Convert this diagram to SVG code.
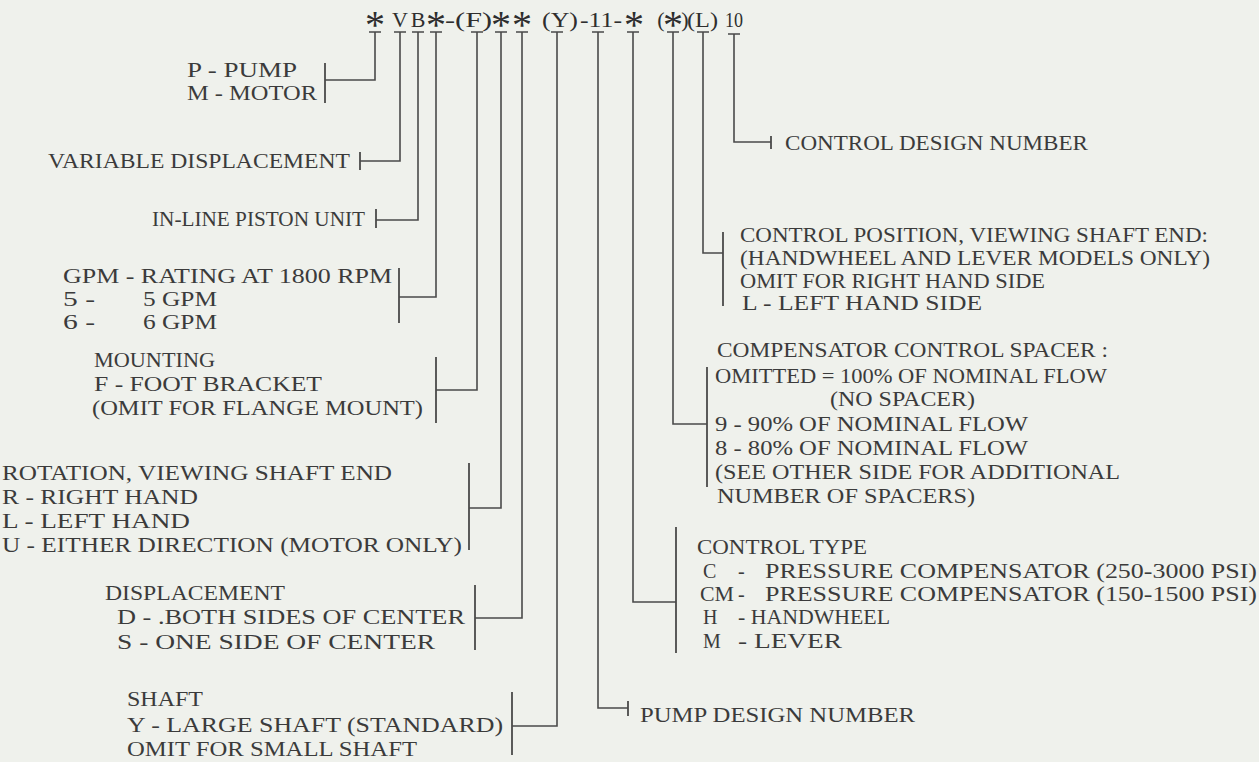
<svg xmlns="http://www.w3.org/2000/svg" width="1259" height="762" viewBox="0 0 1259 762">
<style>
.t{font-family:"Liberation Serif","Times New Roman",serif;font-size:20px;fill:#3b3b3b}
.h{font-family:"Liberation Serif","Times New Roman",serif;font-size:22px;fill:#2e2e2e}
.a{font-family:"Liberation Serif","Times New Roman",serif;font-size:40px;fill:#2e2e2e;text-anchor:middle}
.ln{fill:none;stroke:#4a4a4a;stroke-width:1.6}
.tk{fill:none;stroke:#4a4a4a;stroke-width:1.8}
</style>
<rect width="1259" height="762" fill="#eff1ec"/>
<g id="code">
<text class="a" x="375" y="38">*</text>
<text class="h" x="400" y="27" text-anchor="middle">V</text>
<text class="h" x="418" y="27" text-anchor="middle">B</text>
<text class="a" x="436" y="38">*</text>
<text class="h" x="445" y="27" textLength="47" lengthAdjust="spacingAndGlyphs">-(F)</text>
<text class="a" x="501" y="38">*</text>
<text class="a" x="522" y="38">*</text>
<text class="h" x="542" y="27" textLength="36" lengthAdjust="spacingAndGlyphs">(Y)</text>
<text class="h" x="580" y="27" textLength="42" lengthAdjust="spacingAndGlyphs">-11-</text>
<text class="a" x="634" y="38">*</text>
<text class="h" x="661" y="27" text-anchor="middle">(</text>
<text class="a" x="673" y="38">*</text>
<text class="h" x="685" y="27" text-anchor="middle">)</text>
<text class="h" x="687" y="27" textLength="31" lengthAdjust="spacingAndGlyphs">(L)</text>
<text class="h" x="725" y="27" textLength="18" lengthAdjust="spacingAndGlyphs">10</text>
</g>
<g id="connectors">
<path class="ln" d="M369,32H381M375,32V80H325"/>
<path class="ln" d="M394,32H406M400,32V161H360"/>
<path class="ln" d="M412,32H424M418,32V220H376"/>
<path class="ln" d="M430,32H442M436,32V297H399"/>
<path class="ln" d="M471,32H483M477,32V390H436"/>
<path class="ln" d="M495,32H507M501,32V508H469"/>
<path class="ln" d="M516,32H528M522,32V618H475"/>
<path class="ln" d="M551,32H563M557,32V726H512"/>
<path class="ln" d="M592,32H604M598,32V708H628"/>
<path class="ln" d="M627,32H639M633,32V602H676"/>
<path class="ln" d="M667,32H679M673,32V424H707"/>
<path class="ln" d="M697,32H709M703,32V253H723"/>
<path class="ln" d="M728,34H740M734,34V142H771"/>
</g>
<g id="pump-motor">
<path class="tk" d="M325,63V103"/>
<text class="t" x="187" y="77" textLength="110" lengthAdjust="spacingAndGlyphs">P - PUMP</text>
<text class="t" x="187" y="100" textLength="130" lengthAdjust="spacingAndGlyphs">M - MOTOR</text>
</g>
<g id="variable-displacement">
<path class="tk" d="M360,152V170"/>
<text class="t" x="48" y="168" textLength="302" lengthAdjust="spacingAndGlyphs">VARIABLE DISPLACEMENT</text>
</g>
<g id="inline-piston">
<path class="tk" d="M376,209V228"/>
<text class="t" x="152" y="226" textLength="213" lengthAdjust="spacingAndGlyphs">IN-LINE PISTON UNIT</text>
</g>
<g id="gpm">
<path class="tk" d="M399,268V323"/>
<text class="t" x="63" y="283" textLength="329" lengthAdjust="spacingAndGlyphs">GPM - RATING AT 1800 RPM</text>
<text class="t" x="63" y="306" textLength="32" lengthAdjust="spacingAndGlyphs">5 -</text>
<text class="t" x="143" y="306" textLength="74" lengthAdjust="spacingAndGlyphs">5 GPM</text>
<text class="t" x="63" y="329" textLength="32" lengthAdjust="spacingAndGlyphs">6 -</text>
<text class="t" x="143" y="329" textLength="74" lengthAdjust="spacingAndGlyphs">6 GPM</text>
</g>
<g id="mounting">
<path class="tk" d="M436,357V423"/>
<text class="t" x="94" y="367" textLength="121" lengthAdjust="spacingAndGlyphs">MOUNTING</text>
<text class="t" x="94" y="391" textLength="228" lengthAdjust="spacingAndGlyphs">F - FOOT BRACKET</text>
<text class="t" x="92" y="415" textLength="331" lengthAdjust="spacingAndGlyphs">(OMIT FOR FLANGE MOUNT)</text>
</g>
<g id="rotation">
<path class="tk" d="M469,463V550"/>
<text class="t" x="2" y="480" textLength="390" lengthAdjust="spacingAndGlyphs">ROTATION, VIEWING SHAFT END</text>
<text class="t" x="2" y="504" textLength="196" lengthAdjust="spacingAndGlyphs">R - RIGHT HAND</text>
<text class="t" x="2" y="528" textLength="188" lengthAdjust="spacingAndGlyphs">L - LEFT HAND</text>
<text class="t" x="2" y="552" textLength="460" lengthAdjust="spacingAndGlyphs">U - EITHER DIRECTION (MOTOR ONLY)</text>
</g>
<g id="displacement">
<path class="tk" d="M475,585V650"/>
<text class="t" x="105" y="600" textLength="180" lengthAdjust="spacingAndGlyphs">DISPLACEMENT</text>
<text class="t" x="117" y="624" textLength="348" lengthAdjust="spacingAndGlyphs">D - .BOTH SIDES OF CENTER</text>
<text class="t" x="117" y="649" textLength="318" lengthAdjust="spacingAndGlyphs">S - ONE SIDE OF CENTER</text>
</g>
<g id="shaft">
<path class="tk" d="M512,692V755"/>
<text class="t" x="127" y="706" textLength="76" lengthAdjust="spacingAndGlyphs">SHAFT</text>
<text class="t" x="127" y="732" textLength="376" lengthAdjust="spacingAndGlyphs">Y - LARGE SHAFT (STANDARD)</text>
<text class="t" x="127" y="756" textLength="290" lengthAdjust="spacingAndGlyphs">OMIT FOR SMALL SHAFT</text>
</g>
<g id="pump-design">
<path class="tk" d="M628,701V716"/>
<text class="t" x="640" y="722" textLength="275" lengthAdjust="spacingAndGlyphs">PUMP DESIGN NUMBER</text>
</g>
<g id="control-type">
<path class="tk" d="M676,527V653"/>
<text class="t" x="697" y="554" textLength="170" lengthAdjust="spacingAndGlyphs">CONTROL TYPE</text>
<text class="t" x="703" y="578">C</text>
<text class="t" x="738" y="578">-</text>
<text class="t" x="765" y="578" textLength="492" lengthAdjust="spacingAndGlyphs">PRESSURE COMPENSATOR (250-3000 PSI)</text>
<text class="t" x="700" y="601" textLength="34" lengthAdjust="spacingAndGlyphs">CM</text>
<text class="t" x="738" y="601">-</text>
<text class="t" x="765" y="601" textLength="492" lengthAdjust="spacingAndGlyphs">PRESSURE COMPENSATOR (150-1500 PSI)</text>
<text class="t" x="703" y="624">H</text>
<text class="t" x="738" y="624" textLength="152" lengthAdjust="spacingAndGlyphs">- HANDWHEEL</text>
<text class="t" x="703" y="648">M</text>
<text class="t" x="738" y="648" textLength="104" lengthAdjust="spacingAndGlyphs">- LEVER</text>
</g>
<g id="compensator-spacer">
<path class="tk" d="M707,367V487"/>
<text class="t" x="717" y="357" textLength="391" lengthAdjust="spacingAndGlyphs">COMPENSATOR CONTROL SPACER :</text>
<text class="t" x="715" y="383" textLength="392" lengthAdjust="spacingAndGlyphs">OMITTED = 100% OF NOMINAL FLOW</text>
<text class="t" x="830" y="406" textLength="145" lengthAdjust="spacingAndGlyphs">(NO SPACER)</text>
<text class="t" x="715" y="431" textLength="313" lengthAdjust="spacingAndGlyphs">9 - 90% OF NOMINAL FLOW</text>
<text class="t" x="715" y="455" textLength="313" lengthAdjust="spacingAndGlyphs">8 - 80% OF NOMINAL FLOW</text>
<text class="t" x="715" y="479" textLength="405" lengthAdjust="spacingAndGlyphs">(SEE OTHER SIDE FOR ADDITIONAL</text>
<text class="t" x="717" y="503" textLength="258" lengthAdjust="spacingAndGlyphs">NUMBER OF SPACERS)</text>
</g>
<g id="control-position">
<path class="tk" d="M723,232V306"/>
<text class="t" x="740" y="242" textLength="468" lengthAdjust="spacingAndGlyphs">CONTROL POSITION, VIEWING SHAFT END:</text>
<text class="t" x="740" y="265" textLength="470" lengthAdjust="spacingAndGlyphs">(HANDWHEEL AND LEVER MODELS ONLY)</text>
<text class="t" x="740" y="288" textLength="305" lengthAdjust="spacingAndGlyphs">OMIT FOR RIGHT HAND SIDE</text>
<text class="t" x="742" y="310" textLength="240" lengthAdjust="spacingAndGlyphs">L - LEFT HAND SIDE</text>
</g>
<g id="control-design">
<path class="tk" d="M771,136V149"/>
<text class="t" x="785" y="150" textLength="303" lengthAdjust="spacingAndGlyphs">CONTROL DESIGN NUMBER</text>
</g>
</svg>
